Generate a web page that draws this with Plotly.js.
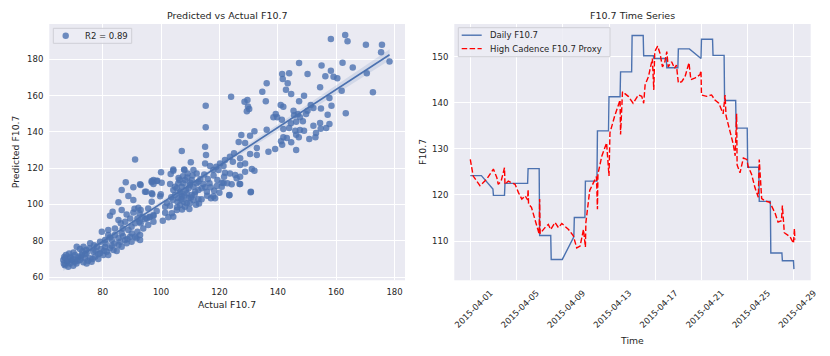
<!DOCTYPE html>
<html>
<head>
<meta charset="utf-8">
<script src="https://cdn.plot.ly/plotly-3.0.1.min.js"></script>
<style>
  body { margin: 0; background: #fff; }
  #chart { width: 830px; height: 356px; }
</style>
</head>
<body>
<div id="chart"></div>
<script>
// scatter: actual vs predicted F10.7
const actualF107 = [
  158.2,163.1,163.9,170.2,175.7,175.4,178.3,170.5,172.6,165.7,162.2,160.4,159.1,158.2,156.3,155.0,161.9,154.5,157.7,163.3,
  158.4,157.1,154.8,152.2,151.3,157.7,154.5,156.6,154.7,152.2,153.1,152.9,150.8,150.2,149.7,149.0,147.3,150.2,147.3,143.9,
  141.5,141.7,143.4,142.8,144.6,136.2,134.7,135.9,141.0,141.9,145.4,146.9,147.6,148.6,146.3,144.5,145.6,141.4,139.3,138.5,
  139.8,136.2,141.9,143.9,146.0,147.6,149.0,146.3,147.2,141.9,143.1,144.6,141.1,141.5,139.1,136.8,146.3,132.0,130.5,127.5,
  126.6,128.8,132.8,125.0,124.0,128.6,129.6,129.8,129.4,130.2,
  107.1,115.1,115.4,110.2,115.1,116.8,104.2,107.9,100.0,103.3,97.4,98.7,96.8,100.2,103.1,106.3,108.2,110.5,112.8,114.5,
  116.6,119.1,120.8,119.3,121.6,122.7,124.2,125.9,123.4,118.5,117.1,113.9,112.8,109.7,109.9,94.9,97.0,99.9,92.8,101.4,
  103.1,101.4,103.7,104.2,102.5,100.6,94.5,97.4,96.0,93.0,93.0,130.5,132.8,123.6,124.6,127.1,127.1,128.8,131.1,132.0,
  128.8,123.6,125.4,127.1,120.2,121.4,119.7,121.9,117.9,118.9,120.8,127.1,130.8,121.9,111.1,112.2,109.1,105.4,106.5,104.8,
  105.9,107.1,107.7,106.5,108.8,109.4,111.1,111.7,110.5,112.8,113.9,115.1,115.7,111.1,108.2,105.4,107.1,104.2,112.2,109.9,
  107.7,105.9,104.8,109.4,108.8,104.0,105.6,
  91.1,115.3,115.3,108.0,104.2,117.9,123.4,130.7,126.9,121.4,
  106.0,107.5,109.0,110.8,108.5,110.0,106.8,108.0,110.2,107.0,105.5,107.2,113.5,114.8,116.0,111.5,112.0,113.0,103.5,102.0,
  118.0,117.0,118.2,120.0,115.8,
  87.9,86.5,90.5,93.0,88.8,90.5,94.5,96.8,98.5,96.8,85.4,83.4,82.5,86.5,88.2,90.5,92.2,92.6,93.7,89.4,
  85.4,86.2,87.7,91.1,92.6,95.1,96.2,97.4,98.5,89.9,88.8,86.5,84.2,81.9,79.7,89.4,91.1,91.9,87.7,85.4,
  83.1,80.8,79.1,85.4,83.1,80.8,78.0,75.7,75.4,73.4,72.2,71.1,76.8,74.5,79.1,81.4,83.7,72.8,70.5,68.8,
  67.1,67.7,66.7,68.8,70.5,72.2,73.9,75.7,73.4,76.2,68.2,69.9,66.5,67.4,69.4,71.7,74.3,77.4,78.5,80.2,
  81.9,84.8,86.5,88.2,89.9,91.6,92.8,92.8,84.2,81.9,86.9,93.9,95.6,97.4,90.9,91.9,95.6,96.8,99.7,97.4,
  67.0,68.0,69.0,70.0,71.0,72.5,74.0,75.0,76.5,77.5,78.5,79.5,80.5,82.5,84.0,86.0,87.0,88.5,90.0,82.5,
  81.0,77.0,73.0,70.0,66.8,68.5,71.5,74.5
];
const predictedF107 = [
  191.1,193.3,189.9,188.0,188.0,183.8,178.8,172.2,161.8,175.5,178.1,169.5,170.4,173.7,170.6,176.6,162.6,164.5,158.6,150.2,
  154.4,149.4,152.9,153.1,154.8,144.3,144.8,142.1,141.7,143.4,139.3,137.0,136.0,151.6,149.8,159.9,156.8,171.8,177.9,172.2,
  171.8,169.1,166.7,163.2,160.8,166.7,162.1,156.8,154.8,153.8,151.6,149.8,148.0,145.8,145.6,144.7,149.1,146.7,149.8,148.0,
  148.0,141.2,141.5,142.1,140.6,141.0,140.6,138.4,137.0,137.0,136.6,134.2,134.8,132.9,130.5,129.0,130.0,140.3,137.9,138.2,
  134.4,133.8,131.1,128.2,159.3,156.6,157.5,154.0,151.3,152.6,
  129.4,131.8,127.2,123.2,122.6,121.2,119.3,119.3,117.7,116.7,113.4,113.1,112.2,112.0,111.2,113.4,113.4,113.4,112.5,111.2,
  111.6,110.1,109.8,113.4,115.3,111.6,111.1,114.4,105.2,103.4,103.4,102.8,102.8,97.5,100.6,107.0,105.6,105.6,111.1,98.7,
  99.3,95.4,95.1,93.2,92.9,91.0,91.8,93.6,92.9,96.9,89.6,127.8,127.2,126.3,123.5,125.4,121.7,122.6,119.5,118.6,
  118.0,117.1,116.2,115.3,122.6,121.2,119.0,117.5,119.0,120.8,112.0,111.2,107.0,124.5,119.0,117.1,117.1,108.9,107.0,105.2,
  103.4,104.3,101.5,99.7,106.1,108.9,109.8,107.0,105.2,107.9,108.9,109.4,107.0,102.4,98.7,96.9,109.8,107.9,111.6,110.7,
  111.6,111.6,109.8,103.4,100.6,102.4,101.5,
  124.8,154.4,142.5,119.0,118.6,104.5,105.0,106.7,111.2,111.8,
  114.5,115.5,114.8,116.0,108.0,112.0,106.0,104.8,103.8,102.8,98.5,97.2,114.0,116.5,114.0,105.5,99.8,100.5,104.0,100.8,
  116.0,109.5,107.5,106.5,104.8,
  112.2,107.9,109.4,110.7,104.6,102.4,107.0,112.9,112.9,106.1,101.2,96.0,93.8,96.9,94.5,95.6,98.2,95.1,93.2,92.3,
  91.4,89.6,90.5,89.6,90.5,92.3,93.2,94.2,96.4,87.7,85.9,84.1,83.1,83.1,85.0,82.2,82.2,85.0,80.4,81.3,
  80.4,80.4,79.4,77.6,77.2,76.7,76.7,78.6,75.8,76.7,75.4,76.7,73.9,73.1,73.1,73.9,74.9,72.1,72.1,71.2,
  70.3,68.4,67.5,67.5,68.4,69.4,70.3,70.3,68.1,68.4,65.7,66.2,69.4,72.1,69.4,71.2,74.9,71.2,69.9,72.1,
  72.1,74.3,76.7,78.6,79.4,81.3,83.1,80.4,86.8,85.9,86.8,86.8,88.7,90.5,97.6,92.3,97.8,101.5,104.5,111.2,
  66.5,69.0,70.5,69.8,67.5,70.8,72.5,69.0,70.0,74.5,72.5,75.5,74.5,75.8,78.5,79.5,82.5,81.0,84.0,81.8,
  78.5,77.5,74.2,73.5,71.0,73.0,69.0,67.5
];

// time series: daily F10.7 (step line, vertices)
const dailyTime = [
  '2015-04-01 00:00','2015-04-01 23:00','2015-04-02 23:00','2015-04-03 00:00','2015-04-03 23:00','2015-04-04 00:00',
  '2015-04-05 23:00','2015-04-06 00:00','2015-04-06 23:00','2015-04-07 00:00','2015-04-07 23:00','2015-04-08 00:00',
  '2015-04-08 23:00','2015-04-09 23:00','2015-04-10 00:00','2015-04-10 22:00','2015-04-10 23:00','2015-04-11 23:00',
  '2015-04-12 00:00','2015-04-12 23:00','2015-04-13 00:00','2015-04-13 23:00','2015-04-14 00:00','2015-04-14 23:00',
  '2015-04-15 00:00','2015-04-15 23:00','2015-04-16 00:00','2015-04-16 20:00','2015-04-16 21:00','2015-04-17 23:00',
  '2015-04-18 00:00','2015-04-18 23:00','2015-04-19 00:00','2015-04-19 23:00','2015-04-20 23:00','2015-04-21 00:00',
  '2015-04-21 23:00','2015-04-22 00:00','2015-04-22 23:00','2015-04-23 00:00','2015-04-23 23:00','2015-04-24 00:00',
  '2015-04-24 23:00','2015-04-25 00:00','2015-04-25 23:00','2015-04-26 00:00','2015-04-26 23:00','2015-04-27 00:00',
  '2015-04-27 23:00','2015-04-28 00:00','2015-04-28 23:00','2015-04-29 00:00'
];
const dailyF107 = [
  124.2,124.2,121.3,119.9,119.9,122.5,
  122.5,125.7,125.7,111.2,111.2,106.0,
  106.0,110.9,115.1,115.1,123.0,123.0,
  133.9,133.9,141.3,141.3,146.7,146.7,
  154.6,154.6,150.2,150.2,149.6,149.6,
  147.6,147.6,151.7,151.7,149.6,153.8,
  153.8,150.3,150.3,140.5,140.5,134.5,
  134.5,126.0,126.0,118.6,118.6,107.4,
  107.4,105.7,105.7,103.9
];

// high cadence proxy
const proxyTime = [
  '2015-04-01 00:00','2015-04-01 06:00','2015-04-01 20:00','2015-04-02 10:00','2015-04-03 00:00','2015-04-03 07:00',
  '2015-04-03 10:00','2015-04-03 16:00','2015-04-03 23:00','2015-04-04 00:00','2015-04-04 07:00','2015-04-04 21:00',
  '2015-04-05 04:00','2015-04-05 11:00','2015-04-05 18:00','2015-04-05 23:00','2015-04-06 00:00','2015-04-06 01:00',
  '2015-04-06 07:00','2015-04-06 18:00','2015-04-06 23:00','2015-04-07 00:00','2015-04-07 01:00','2015-04-07 11:00',
  '2015-04-07 18:00','2015-04-07 23:00','2015-04-08 08:00','2015-04-08 15:00','2015-04-08 22:00','2015-04-09 12:00',
  '2015-04-09 22:00','2015-04-10 05:00','2015-04-10 12:00','2015-04-10 19:00','2015-04-10 23:00','2015-04-11 00:00',
  '2015-04-11 08:00','2015-04-11 15:00','2015-04-11 22:00','2015-04-12 00:00','2015-04-12 01:00','2015-04-12 09:00',
  '2015-04-12 19:00','2015-04-13 00:00','2015-04-13 02:00','2015-04-13 12:00','2015-04-13 23:00','2015-04-14 00:00',
  '2015-04-14 04:00','2015-04-14 16:00','2015-04-15 02:00','2015-04-15 13:00','2015-04-15 20:00','2015-04-16 00:00',
  '2015-04-16 03:00','2015-04-16 10:00','2015-04-16 18:00','2015-04-16 21:00','2015-04-16 23:00','2015-04-17 05:00',
  '2015-04-17 10:00','2015-04-17 15:00','2015-04-17 20:00','2015-04-18 00:00','2015-04-18 03:00','2015-04-18 10:00',
  '2015-04-18 16:00','2015-04-18 20:00','2015-04-19 00:00','2015-04-19 07:00','2015-04-19 14:00','2015-04-19 22:00',
  '2015-04-20 02:00','2015-04-20 11:00','2015-04-20 21:00','2015-04-20 23:00','2015-04-21 00:00','2015-04-21 11:00',
  '2015-04-21 21:00','2015-04-22 04:00','2015-04-22 12:00','2015-04-22 21:00','2015-04-23 01:00','2015-04-23 03:00',
  '2015-04-23 11:00','2015-04-23 18:00','2015-04-23 22:00','2015-04-24 01:00','2015-04-24 02:00','2015-04-24 08:00',
  '2015-04-24 15:00','2015-04-24 22:00','2015-04-25 01:00','2015-04-25 08:00','2015-04-25 15:00','2015-04-25 22:00',
  '2015-04-26 00:00','2015-04-26 05:00','2015-04-26 12:00','2015-04-26 22:00','2015-04-27 09:00','2015-04-27 15:00',
  '2015-04-27 22:00','2015-04-28 00:00','2015-04-28 04:00','2015-04-28 16:00','2015-04-28 23:00','2015-04-29 01:00',
  '2015-04-29 02:00'
];
const proxyF107 = [
  127.7,124.1,122.0,123.4,125.6,123.8,
  122.3,123.0,125.9,122.3,123.0,122.3,
  120.5,119.1,119.8,118.9,121.2,118.0,
  117.3,113.3,111.5,119.1,111.6,112.9,
  113.6,112.5,114.0,112.9,113.8,112.5,
  111.1,108.5,108.9,112.5,108.7,114.0,
  121.0,122.5,124.0,116.9,124.5,128.4,
  131.3,124.1,133.5,137.2,140.6,133.1,
  142.4,141.4,139.9,141.7,141.4,139.9,
  143.9,145.7,149.6,142.8,151.1,152.3,
  150.7,147.8,148.9,151.1,147.8,148.9,
  147.5,148.2,144.3,144.6,145.7,148.7,
  145.0,145.4,146.1,147.0,141.7,141.4,
  141.7,140.6,139.9,137.6,141.7,137.2,
  134.0,131.0,128.5,137.6,126.5,124.8,
  128.0,127.7,126.2,124.5,121.6,119.5,
  127.7,119.2,118.7,118.4,116.0,114.1,
  114.4,117.7,111.8,110.9,109.5,112.7,
  110.3
];

const dateTicks = ['2015-04-01','2015-04-05','2015-04-09','2015-04-13','2015-04-17','2015-04-21','2015-04-25','2015-04-29'];

const blue = '#4c72b0';
const ink = '#262626';
const W = 830, H = 356;

// least squares fit + 95% band, like seaborn regplot
const n = actualF107.length;
const mx = actualF107.reduce((a, b) => a + b, 0) / n;
const my = predictedF107.reduce((a, b) => a + b, 0) / n;
let sxx = 0, sxy = 0;
for (let i = 0; i < n; i++) {
  sxx += (actualF107[i] - mx) ** 2;
  sxy += (actualF107[i] - mx) * (predictedF107[i] - my);
}
const slope = sxy / sxx;
const icpt = my - slope * mx;
let sse = 0;
for (let i = 0; i < n; i++) sse += (predictedF107[i] - icpt - slope * actualF107[i]) ** 2;
const s = Math.sqrt(sse / (n - 2));
const xmin = Math.min(...actualF107), xmax = Math.max(...actualF107);
const gx = [], gy = [], lo = [], hi = [];
for (let k = 0; k <= 60; k++) {
  const x = xmin + (xmax - xmin) * k / 60;
  const y = icpt + slope * x;
  const h = 1.97 * s * Math.sqrt(1 / n + (x - mx) ** 2 / sxx);
  gx.push(x); gy.push(y); lo.push(y - h); hi.push(y + h);
}

const traces = [
  {
    x: actualF107, y: predictedF107, type: 'scatter', mode: 'markers', name: 'R2 = 0.89',
    marker: { color: blue, size: 6.5, opacity: 0.8, line: { width: 0 } },
    xaxis: 'x', yaxis: 'y'
  },
  {
    x: gx.concat(gx.slice().reverse()), y: hi.concat(lo.slice().reverse()),
    type: 'scatter', mode: 'lines', fill: 'toself', fillcolor: 'rgba(76,114,176,0.15)',
    line: { width: 0 }, hoverinfo: 'skip', xaxis: 'x', yaxis: 'y'
  },
  {
    x: gx, y: gy, type: 'scatter', mode: 'lines', line: { color: blue, width: 1.6 },
    xaxis: 'x', yaxis: 'y'
  },
  {
    x: dailyTime, y: dailyF107, type: 'scatter', mode: 'lines', name: 'Daily F10.7',
    line: { color: blue, width: 1.4 }, xaxis: 'x2', yaxis: 'y2'
  },
  {
    x: proxyTime, y: proxyF107, type: 'scatter', mode: 'lines', name: 'High Cadence F10.7 Proxy',
    line: { color: 'red', width: 1.4, dash: '5.5px,2.4px' }, xaxis: 'x2', yaxis: 'y2'
  }
];

const tickFont = { family: 'DejaVu Sans', size: 8.5, color: ink };
const axisBase = {
  showgrid: true, gridcolor: '#ffffff', gridwidth: 1, zeroline: false, showline: false,
  ticks: '', tickfont: tickFont, ticklabelstandoff: 5
};
const py = v => (H - v) / H;
const px = v => v / W;

const label = (text, x, y, size, angle, anchor) => ({
  text, x, y, xref: 'paper', yref: 'paper', showarrow: false, textangle: angle || 0,
  xanchor: anchor || 'center', yanchor: 'middle', font: { family: 'DejaVu Sans', size, color: ink }
});

// compact legend boxes drawn like matplotlib's
const box = (x0, y0, x1, y1) => ({
  type: 'rect', xref: 'paper', yref: 'paper', layer: 'above',
  x0: px(x0), x1: px(x1), y0: py(y1), y1: py(y0),
  fillcolor: 'rgba(236,236,244,0.85)', line: { color: '#cfcfd6', width: 1 }
});
const sample = (x0, x1, y, color, dash) => ({
  type: 'line', xref: 'paper', yref: 'paper', layer: 'above',
  x0: px(x0), x1: px(x1), y0: py(y), y1: py(y), line: { color, width: 1.4, dash: dash || 'solid' }
});

const layout = {
  width: W, height: H,
  margin: { l: 0, r: 0, t: 0, b: 0 },
  paper_bgcolor: '#ffffff', plot_bgcolor: '#eaeaf2',
  font: { family: 'DejaVu Sans', color: ink },
  showlegend: false,
  xaxis: Object.assign({}, axisBase, {
    domain: [px(49.3), px(405)], range: [61.7, 183.6], dtick: 20, tick0: 0, anchor: 'y'
  }),
  yaxis: Object.assign({}, axisBase, {
    domain: [py(280.3), py(24)], range: [58.2, 199.4], dtick: 20, tick0: 0, anchor: 'x'
  }),
  xaxis2: Object.assign({}, axisBase, {
    domain: [px(454.3), px(810.7)], type: 'date',
    range: ['2015-03-30 14:47', '2015-04-30 10:48'],
    tickvals: dateTicks, ticktext: dateTicks, tickangle: -45, ticklabelshift: 20, anchor: 'y2'
  }),
  yaxis2: Object.assign({}, axisBase, {
    domain: [py(280.3), py(24)], range: [101.47, 157.1], dtick: 10, tick0: 0, anchor: 'x2'
  }),
  shapes: [
    box(53.3, 28.3, 131.7, 43.3),
    {
      type: 'circle', xref: 'paper', yref: 'paper', layer: 'above',
      x0: px(62.5), x1: px(68.9), y0: py(39), y1: py(32.6),
      fillcolor: 'rgba(76,114,176,0.8)', line: { width: 0 }
    },
    box(458.3, 27.7, 610, 56.7),
    sample(461.7, 481.7, 35.2, blue),
    sample(461.7, 481.7, 48.6, 'red', '5.5px,2.4px')
  ],
  annotations: [
    label('Predicted vs Actual F10.7', px(227), py(15), 9.5),
    label('F10.7 Time Series', px(632.3), py(15), 9.5),
    label('Actual F10.7', px(226.7), py(304.7), 9.3),
    label('Predicted F10.7', px(15), py(152.2), 9.3, -90),
    label('Time', px(631.7), py(340.3), 9.3),
    label('F10.7', px(421.7), py(152.2), 9.3, -90),
    label('R2 = 0.89', px(82.5), py(35.8), 8.5, 0, 'left'),
    label('Daily F10.7', px(487.5), py(35.2), 8.5, 0, 'left'),
    label('High Cadence F10.7 Proxy', px(487.5), py(48.6), 8.5, 0, 'left')
  ]
};

Plotly.newPlot('chart', traces, layout, { staticPlot: true, displayModeBar: false });
</script>
</body>
</html>
